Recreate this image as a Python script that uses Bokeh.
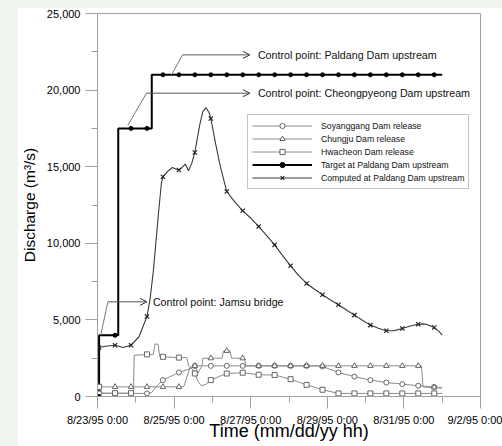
from bokeh.plotting import figure
from bokeh.models import (Range1d, FixedTicker, NumeralTickFormatter, Legend, LegendItem,
                          Label, Arrow, OpenHead)
from bokeh.layouts import column
from bokeh.embed import file_html
from bokeh.resources import INLINE

# x values: hours since 8/23/95 0:00
x_ticks = [0, 48, 96, 144, 192, 240]
x_minor = [24, 72, 120, 168, 216]
x_tick_labels = ["8/23/95 0:00", "8/25/95 0:00", "8/27/95 0:00", "8/29/95 0:00",
                 "8/31/95 0:00", "9/2/95 0:00"]
y_ticks = [0, 5000, 10000, 15000, 20000, 25000]
y_minor = [2500, 7500, 12500, 17500, 22500]

marker_h = [1, 11, 21, 31, 41, 51, 61, 71, 81, 91, 101, 111, 121, 131, 141, 151,
            161, 171, 181, 191, 201, 211]

# Soyanggang Dam release
soy_h = [1, 31, 34, 36, 41, 51, 59, 61, 140, 151, 161, 171, 181, 191, 201, 211, 216]
soy_q = [200, 200, 260, 550, 1070, 1570, 1850, 2000, 2000, 1570, 1300, 1070, 910, 810,
         700, 620, 560]
soy_mk = [200, 200, 200, 200, 1070, 1570, 2000, 2000, 2000, 2000, 2000, 2000, 2000, 2000,
          1960, 1570, 1300, 1070, 910, 810, 700, 620]

# Chungju Dam release
chu_h = [1, 54, 58, 61, 63, 65.5, 66, 78, 79, 83, 84, 92, 93, 203, 204, 216]
chu_q = [630, 630, 1900, 2000, 1550, 2000, 2500, 2500, 2980, 2980, 2500, 2500, 2000,
         2000, 620, 560]
chu_mk = [630, 630, 630, 630, 630, 630, 2000, 2500, 2980, 2500, 2000, 2000, 2000, 2000,
          2000, 2000, 2000, 2000, 2000, 2000, 2000, 600]

# Hwacheon Dam release
hw_h = [1, 3, 22.5, 23, 35, 36, 38, 39, 41, 51, 56, 57, 59, 61, 63, 65, 68, 71, 76, 81,
        91, 101, 111, 121, 131, 141, 151, 216]
hw_q = [630, 220, 220, 2700, 2750, 3420, 3420, 2600, 2590, 2540, 2540, 2000, 1850, 1500,
        1000, 700, 800, 1070, 1300, 1500, 1550, 1420, 1400, 1130, 760, 440, 200, 200]
hw_mk = [630, 220, 220, 2750, 2590, 2540, 1500, 1070, 1500, 1550, 1420, 1400, 1130, 760,
         440, 200, 200, 200, 200, 200, 200, 200]

# Target at Paldang Dam upstream
tgt_h = [1, 1, 13, 13, 34, 34, 216]
tgt_q = [0, 4000, 4000, 17500, 17500, 21000, 21000]
tgt_mk = [0, 4000, 17500, 17500, 21000, 21000, 21000, 21000, 21000, 21000, 21000, 21000,
          21000, 21000, 21000, 21000, 21000, 21000, 21000, 21000, 21000, 21000]

# Computed at Paldang Dam upstream
cmp_h = [1, 6, 11, 16, 21, 26, 31, 33, 35, 38, 40, 41, 44, 47, 49, 51, 53, 55, 57, 59,
         61, 64, 66, 68, 70, 71, 74, 77, 81, 86, 91, 96, 101, 106, 111, 116, 121, 126,
         131, 136, 141, 146, 151, 156, 161, 166, 171, 176, 181, 186, 191, 196, 201, 204,
         206, 211, 214, 216]
cmp_q = [3200, 3300, 3350, 3200, 3350, 3900, 5220, 6400, 8200, 11700, 13900, 14340,
         14700, 14950, 14850, 14780, 14950, 15170, 14730, 15200, 15930, 17700, 18600,
         18860, 18500, 18150, 16500, 15000, 13380, 12700, 12120, 11650, 11100, 10500,
         9900, 9200, 8530, 7900, 7380, 7000, 6640, 6300, 5990, 5650, 5310, 4980, 4660,
         4450, 4290, 4300, 4440, 4600, 4720, 4740, 4720, 4500, 4250, 4000]
cmp_mk = [3200, 3350, 3350, 5220, 14340, 14780, 15930, 18150, 13380, 12120, 11100, 9900,
          8530, 7380, 6640, 5990, 5310, 4660, 4290, 4440, 4720, 4500]

# annotations: leader start, elbow, arrow end, text
ann_text = ["Control point: Paldang Dam upstream",
            "Control point: Cheongpyeong Dam upstream",
            "Control point: Jamsu bridge"]
ann_x0 = [46.4, 19.0, 2.0]
ann_y0 = [21000, 17700, 4000]
ann_x1 = [53.3, 30.7, 6.5]
ann_y1 = [22300, 19800, 6180]
ann_x2 = [95.5, 95.5, 31.0]
ann_tx = [100.5, 100.5, 34.7]

FONT = "Liberation Sans"
GRAY = "#a0a0a0"

p = figure(width=485, height=439, output_backend="svg", toolbar_location=None,
           x_range=Range1d(0, 240), y_range=Range1d(0, 25000),
           min_border_left=80, min_border_right=22, min_border_top=6,
           min_border_bottom=50, margin=(7, 0, 0, 17))
p.grid.visible = False
p.outline_line_color = GRAY
p.outline_line_width = 1
p.background_fill_color = "white"
p.border_fill_color = "white"

p.xaxis.ticker = FixedTicker(ticks=x_ticks, minor_ticks=x_minor)
p.xaxis.major_label_overrides = {t: l for t, l in zip(x_ticks, x_tick_labels)}
p.yaxis.ticker = FixedTicker(ticks=y_ticks, minor_ticks=y_minor)
p.yaxis.formatter = NumeralTickFormatter(format="0,0")
for ax in (p.xaxis, p.yaxis):
    ax.axis_line_color = GRAY
    ax.major_tick_line_color = GRAY
    ax.minor_tick_line_color = GRAY
    ax.major_tick_in = 0
    ax.major_tick_out = 12
    ax.minor_tick_in = 0
    ax.minor_tick_out = 6
    ax.major_label_text_font = FONT
    ax.major_label_text_font_size = "11px"
    ax.major_label_text_color = "black"
    ax.axis_label_text_font = FONT
    ax.axis_label_text_font_style = "normal"
    ax.axis_label_text_color = "black"
p.xaxis.axis_label_text_font_size = "18px"
p.yaxis.axis_label_text_font_size = "15.5px"
p.yaxis.major_label_standoff = 5
p.xaxis.major_label_standoff = 5
p.xaxis.axis_label = "Time (mm/dd/yy hh)"
p.yaxis.axis_label = "Discharge (m³/s)"
p.xaxis.axis_label_standoff = -8
p.yaxis.axis_label_standoff = 6

LG = "#8c8c8c"
MK = "#666666"
r_soy = p.line(soy_h, soy_q, line_color=LG, line_width=1)
r_chu = p.line(chu_h, chu_q, line_color=LG, line_width=1)
r_hw = p.line(hw_h, hw_q, line_color=LG, line_width=1)
r_cmp = p.line(cmp_h, cmp_q, line_color="#3a3a3a", line_width=1.1)
r_tgt = p.line(tgt_h, tgt_q, line_color="black", line_width=2)

m_soy = p.scatter(marker_h, soy_mk, marker="circle", size=5, line_color=MK,
                  fill_color="white", line_width=1)
m_chu = p.scatter(marker_h, chu_mk, marker="triangle", size=5.5, line_color=MK,
                  fill_color="white", line_width=1)
m_hw = p.scatter(marker_h, hw_mk, marker="square", size=5, line_color=MK,
                 fill_color="white", line_width=1)
m_cmp = p.scatter(marker_h, cmp_mk, marker="x", size=6, line_color="#222222",
                  line_width=1.2)
m_tgt = p.scatter(marker_h, tgt_mk, marker="circle", size=4, line_color="black",
                  fill_color="black")

# annotation leaders, arrows and texts
for i in range(len(ann_text)):
    p.line([ann_x0[i], ann_x1[i]], [ann_y0[i], ann_y1[i]], line_color="#777777",
           line_width=1)
    p.add_layout(Arrow(end=OpenHead(size=7, line_color="#333333", line_width=1),
                       x_start=ann_x1[i], y_start=ann_y1[i], x_end=ann_x2[i],
                       y_end=ann_y1[i], line_color="#555555", line_width=1))
    p.add_layout(Label(x=ann_tx[i], y=ann_y1[i], text=ann_text[i], text_font=FONT,
                       text_font_size="10.7px", text_color="#111111",
                       text_baseline="middle", text_align="left"))

legend = Legend(items=[
    LegendItem(label="Soyanggang Dam release", renderers=[r_soy, m_soy]),
    LegendItem(label="Chungju Dam release", renderers=[r_chu, m_chu]),
    LegendItem(label="Hwacheon Dam release", renderers=[r_hw, m_hw]),
    LegendItem(label="Target at Paldang Dam upstream", renderers=[r_tgt, m_tgt]),
    LegendItem(label="Computed at Paldang Dam upstream", renderers=[r_cmp, m_cmp]),
], location=(150, 207))
legend.label_text_font = FONT
legend.label_text_font_size = "8.7px"
legend.label_text_color = "#111111"
legend.glyph_width = 60
legend.glyph_height = 13
legend.label_height = 13
legend.label_standoff = 9
legend.spacing = 0
legend.padding = 4
legend.margin = 0
legend.border_line_color = "#888888"
legend.border_line_width = 1
legend.background_fill_color = "white"
legend.background_fill_alpha = 1
p.add_layout(legend)

root = column(p, width=502, height=446, styles={"background-color": "#edf5ee"})
open("out.html", "w").write(file_html(root, INLINE))
